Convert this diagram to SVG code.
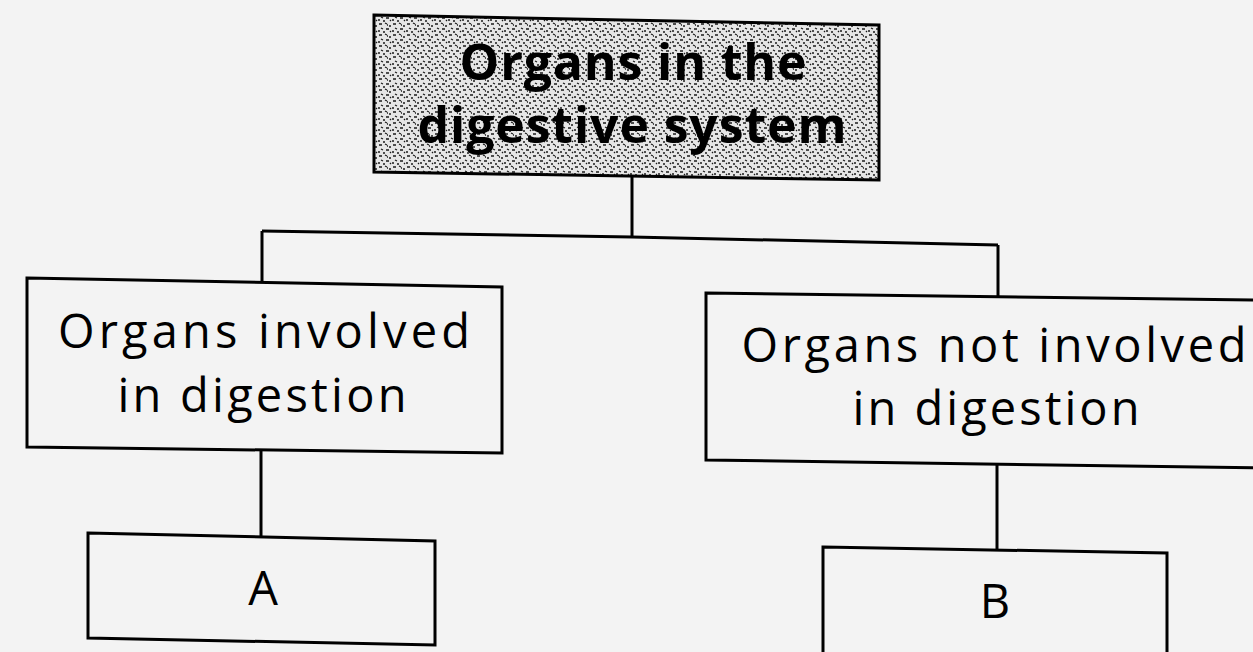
<svg xmlns="http://www.w3.org/2000/svg" width="1253" height="652" viewBox="0 0 1253 652">
<defs>
<pattern id="speck" width="14" height="11" patternUnits="userSpaceOnUse">
<rect width="14" height="11" fill="#e6e6e6"/>
<path d="M1 2h3M7 1l2 1M11 4h2M3 6l2 1M8 7h3M0 9h2M5 10h2M12 9l1 1M9 3h1" stroke="#1a1a1a" stroke-width="1.3" fill="none"/>
</pattern>
<style>
.box{fill:none;stroke:#000;stroke-width:3;stroke-linejoin:miter}
.conn{fill:none;stroke:#000;stroke-width:3}
.t{font-family:"Open Sans","Noto Sans",sans-serif;fill:#000;text-anchor:middle}
.b{font-weight:bold;font-size:50px}
.n{font-size:47px}
</style>
</defs>
<rect width="1253" height="652" fill="#f3f3f3"/>
<g id="connectors">
<path class="conn" d="M632 174V237"/>
<path class="conn" d="M262 231L632 237L998 245"/>
<path class="conn" d="M262 231V282"/>
<path class="conn" d="M998 245V296"/>
<path class="conn" d="M261 450V537"/>
<path class="conn" d="M997 465V550"/>
</g>
<g id="root">
<polygon points="374,15 879,25 879,180 374,172" fill="url(#speck)" stroke="#000" stroke-width="3"/>
<text class="t b" x="633" y="80" textLength="347">Organs in the</text>
<text class="t b" x="632" y="143" textLength="429">digestive system</text>
</g>
<g id="involved">
<polygon class="box" points="27,278 502,287 502,453 27,447"/>
<text class="t n" x="264" y="348" textLength="412">Organs involved</text>
<text class="t n" x="262" y="412" textLength="289">in digestion</text>
</g>
<g id="not-involved">
<polygon class="box" points="706,293 1262,300 1262,468 706,460"/>
<text class="t n" x="994" y="362" textLength="505">Organs not involved</text>
<text class="t n" x="996" y="425" textLength="287">in digestion</text>
</g>
<g id="A">
<polygon class="box" points="88,533 435,541 435,645 88,638"/>
<text class="t n" x="263" y="605">A</text>
</g>
<g id="B">
<polygon class="box" points="823,547 1167,553 1167,662 823,662"/>
<text class="t n" x="995" y="618">B</text>
</g>
</svg>
